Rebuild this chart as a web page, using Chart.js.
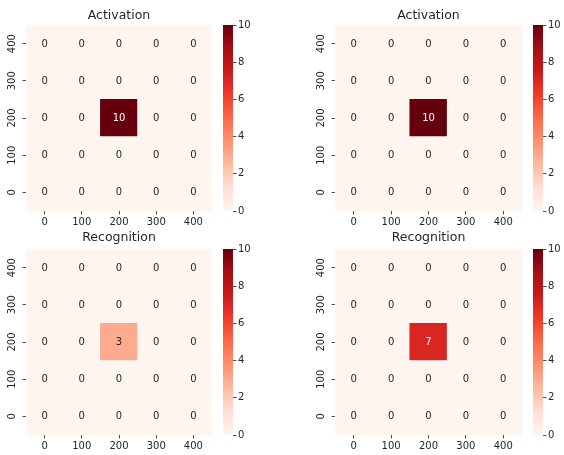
<!DOCTYPE html>
<html>
<head>
<meta charset="utf-8">
<script src="https://cdn.jsdelivr.net/npm/chart.js@4/dist/chart.umd.min.js"></script>
<style>
  html, body { margin: 0; padding: 0; background: #ffffff; }
  #figure { position: relative; width: 564px; height: 455px; overflow: hidden; }
  #figure canvas { position: absolute; }
</style>
</head>
<body>
<div id="figure"></div>
<script>
// ---- data -------------------------------------------------------------
const xLabels = ['0', '100', '200', '300', '400'];
const yLevels = [0, 100, 200, 300, 400];
const binSize = 100;
const panelTitles = ['Activation', 'Activation', 'Recognition', 'Recognition'];

// each matrix lists its rows from y = 0 upward, columns follow xLabels
const activationLeft = [
  [0, 0, 0, 0, 0],
  [0, 0, 0, 0, 0],
  [0, 0, 10, 0, 0],
  [0, 0, 0, 0, 0],
  [0, 0, 0, 0, 0]
];
const activationRight = [
  [0, 0, 0, 0, 0],
  [0, 0, 0, 0, 0],
  [0, 0, 10, 0, 0],
  [0, 0, 0, 0, 0],
  [0, 0, 0, 0, 0]
];
const recognitionLeft = [
  [0, 0, 0, 0, 0],
  [0, 0, 0, 0, 0],
  [0, 0, 3, 0, 0],
  [0, 0, 0, 0, 0],
  [0, 0, 0, 0, 0]
];
const recognitionRight = [
  [0, 0, 0, 0, 0],
  [0, 0, 0, 0, 0],
  [0, 0, 7, 0, 0],
  [0, 0, 0, 0, 0],
  [0, 0, 0, 0, 0]
];
const colorRange = [0, 10];
const colorTicks = [0, 2, 4, 6, 8, 10];

// ---- colour map ("Reds") ---------------------------------------------
const redsStops = [
  [255, 245, 240], [254, 224, 210], [252, 187, 161], [252, 146, 114],
  [251, 106, 74], [239, 59, 44], [203, 24, 29], [165, 15, 21], [103, 0, 13]
];
function redsRGB(v) {
  let t = (v - colorRange[0]) / (colorRange[1] - colorRange[0]);
  t = Math.max(0, Math.min(1, t));
  const pos = t * (redsStops.length - 1);
  const i = Math.min(Math.floor(pos), redsStops.length - 2);
  const f = pos - i;
  const a = redsStops[i], b = redsStops[i + 1];
  return a.map((c, k) => Math.round(c + (b[k] - c) * f));
}
function redsColor(v) {
  const [r, g, b] = redsRGB(v);
  return `rgb(${r},${g},${b})`;
}
function annotColor(v) {
  const lin = redsRGB(v).map(c => {
    c /= 255;
    return c <= 0.03928 ? c / 12.92 : Math.pow((c + 0.055) / 1.055, 2.4);
  });
  const lum = 0.2126 * lin[0] + 0.7152 * lin[1] + 0.0722 * lin[2];
  return lum > 0.408 ? '#262626' : '#ffffff';
}

// ---- defaults ----------------------------------------------------------
Chart.defaults.font.family = "'DejaVu Sans', sans-serif";
Chart.defaults.font.size = 10;
Chart.defaults.color = '#262626';
Chart.defaults.animation = false;
Chart.defaults.plugins.legend.display = false;
Chart.defaults.plugins.tooltip.enabled = false;

const TEXT = '#262626';
const tickGrid = {
  display: true,
  drawOnChartArea: false,
  drawTicks: true,
  tickLength: 3.5,
  tickWidth: 0.8,
  tickColor: TEXT,
  offset: false
};

// writes each cell's value at the centre of its bar
const cellLabels = {
  id: 'cellLabels',
  afterDatasetsDraw(chart) {
    const ctx = chart.ctx;
    ctx.save();
    ctx.font = "10px 'DejaVu Sans', sans-serif";
    ctx.textAlign = 'center';
    ctx.textBaseline = 'middle';
    chart.data.datasets.forEach((ds, di) => {
      chart.getDatasetMeta(di).data.forEach((bar, j) => {
        const p = bar.getProps(['x', 'y', 'base'], true);
        const v = ds.cellValues[j];
        ctx.fillStyle = annotColor(v);
        ctx.fillText(String(v), p.x, (p.y + p.base) / 2 + 0.5);
      });
    });
    ctx.restore();
  }
};

const figure = document.getElementById('figure');
function addCanvas(left, top, w, h) {
  const c = document.createElement('canvas');
  c.width = w; c.height = h;
  c.style.left = left + 'px';
  c.style.top = top + 'px';
  c.style.width = w + 'px';
  c.style.height = h + 'px';
  figure.appendChild(c);
  return c;
}

function heatmap(box, title, matrix) {
  const canvas = addCanvas(box.left, box.top, box.w, box.h);
  const datasets = yLevels.map((yv, i) => ({
    data: xLabels.map(() => [yv - binSize / 2, yv + binSize / 2]),
    cellValues: matrix[i],
    backgroundColor: matrix[i].map(redsColor),
    borderWidth: 0,
    grouped: false,
    barPercentage: 1,
    categoryPercentage: 1
  }));
  return new Chart(canvas, {
    type: 'bar',
    data: { labels: xLabels, datasets },
    options: {
      responsive: false,
      devicePixelRatio: 1,
      layout: { padding: { left: 0, right: box.padRight, top: 0, bottom: 0 } },
      plugins: {
        title: {
          display: true,
          fullSize: false,
          text: title,
          color: TEXT,
          font: { size: 12.5, weight: 'normal' },
          padding: { top: box.titleTop, bottom: box.titleBottom }
        }
      },
      scales: {
        x: {
          type: 'category',
          offset: true,
          grid: tickGrid,
          border: { display: false },
          ticks: { padding: 2, minRotation: 0, maxRotation: 0, autoSkip: false, color: TEXT },
          afterFit: s => { s.height = box.xAxisH; }
        },
        y: {
          type: 'linear',
          min: yLevels[0] - binSize / 2,
          max: yLevels[yLevels.length - 1] + binSize / 2,
          afterBuildTicks: s => { s.ticks = yLevels.map(v => ({ value: v })); },
          grid: tickGrid,
          border: { display: false },
          ticks: { minRotation: 90, maxRotation: 90, crossAlign: 'center', padding: 1, color: TEXT },
          afterFit: s => { s.width = 26; }
        }
      }
    },
    plugins: [cellLabels]
  });
}

function colorbar(box) {
  const canvas = addCanvas(box.left, box.top, box.w, box.h);
  return new Chart(canvas, {
    type: 'bar',
    data: {
      labels: [''],
      datasets: [{
        data: [colorRange.slice()],
        borderWidth: 0,
        barPercentage: 1,
        categoryPercentage: 1,
        backgroundColor: (ctx) => {
          const chart = ctx.chart;
          const area = chart.chartArea;
          const ys = chart.scales.y;
          if (!area || !ys) return redsColor(colorRange[0]);
          const y0 = ys.getPixelForValue(colorRange[0]);
          const y1 = ys.getPixelForValue(colorRange[1]);
          const g = chart.ctx.createLinearGradient(0, y0, 0, y1);
          redsStops.forEach((c, i) => {
            g.addColorStop(i / (redsStops.length - 1), `rgb(${c[0]},${c[1]},${c[2]})`);
          });
          return g;
        }
      }]
    },
    options: {
      responsive: false,
      devicePixelRatio: 1,
      layout: { padding: { left: box.padLeft, right: 0, top: box.padTop, bottom: box.padBottom } },
      scales: {
        x: { display: false },
        y: {
          position: 'right',
          min: colorRange[0],
          max: colorRange[1],
          afterBuildTicks: s => { s.ticks = colorTicks.map(v => ({ value: v })); },
          grid: tickGrid,
          border: { display: false },
          ticks: { padding: 1.5, color: TEXT },
          afterFit: s => { s.width = box.axisW; }
        }
      }
    }
  });
}

// ---- layout: two rows, two columns ------------------------------------
const topRow = { top: 0, h: 230, titleTop: 8.5, titleBottom: 1.5, xAxisH: 19 };
const bottomRow = { top: 230, h: 225, titleTop: 0.5, titleBottom: 3.5, xAxisH: 20 };

heatmap({ left: 0, w: 222, padRight: 10, ...topRow }, panelTitles[0], activationLeft);
heatmap({ left: 309, w: 223, padRight: 10, ...topRow }, panelTitles[1], activationRight);
heatmap({ left: 0, w: 222, padRight: 10, ...bottomRow }, panelTitles[2], recognitionLeft);
heatmap({ left: 309, w: 223, padRight: 10, ...bottomRow }, panelTitles[3], recognitionRight);

colorbar({ left: 215, top: 0, w: 48, h: 230, padLeft: 8, padTop: 25, padBottom: 19, axisW: 30 });
colorbar({ left: 525, top: 0, w: 39, h: 230, padLeft: 8, padTop: 25, padBottom: 19, axisW: 21 });
colorbar({ left: 215, top: 230, w: 48, h: 225, padLeft: 8, padTop: 19, padBottom: 20, axisW: 30 });
colorbar({ left: 525, top: 230, w: 39, h: 225, padLeft: 8, padTop: 19, padBottom: 20, axisW: 21 });
</script>
</body>
</html>
